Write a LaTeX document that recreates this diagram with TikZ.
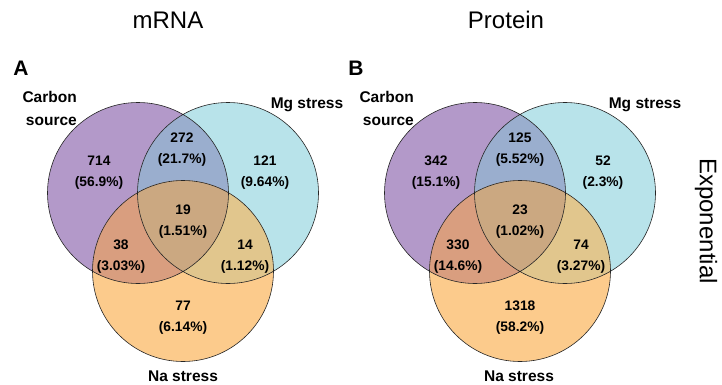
\documentclass[tikz,border=0pt]{standalone}
\usepackage{fontspec}
\setmainfont{Liberation Sans}
\definecolor{cPur}{HTML}{B399C9}
\definecolor{cBlu}{HTML}{B8E3EA}
\definecolor{cOra}{HTML}{FCCB8C}
\definecolor{cCM}{HTML}{9AAECE}
\definecolor{cCN}{HTML}{D99E7F}
\definecolor{cMN}{HTML}{E1C68D}
\definecolor{cCMN}{HTML}{CBA881}
\tikzset{
 lab/.style={font=\fontsize{15.5}{23}\selectfont\bfseries, inner sep=0pt},
 num/.style={font=\fontsize{13.8}{21}\selectfont\bfseries, align=center, inner sep=0pt},
 ttl/.style={font=\fontsize{24}{26}\selectfont, inner sep=0pt},
 pan/.style={font=\fontsize{21}{22}\selectfont\bfseries, inner sep=0pt},
 ring/.style={draw=black!85, line width=0.6pt},
 rr/.style={radius=90.5pt}
}
\begin{document}
\begin{tikzpicture}[x=1pt,y=-1pt]
\useasboundingbox (0,0) rectangle (722,385);
\node[ttl] (t1) at (168,20) {mRNA};
\node[ttl] (t2) at (506,20) {Protein};
\node[pan] (pa) at (21,68) {A};
\node[pan] (pb) at (356,68) {B};
\node[ttl, rotate=-90] (ex) at (706,221) {Exponential};

% ---- Venn A
\coordinate (cA) at (138,193);
\coordinate (mA) at (228,193);
\coordinate (nA) at (183,271);
\fill[cPur] (cA) circle[rr];
\fill[cBlu] (mA) circle[rr];
\fill[cOra] (nA) circle[rr];
\begin{scope}\clip (cA) circle[rr]; \fill[cCM] (mA) circle[rr]; \end{scope}
\begin{scope}\clip (cA) circle[rr]; \fill[cCN] (nA) circle[rr]; \end{scope}
\begin{scope}\clip (mA) circle[rr]; \fill[cMN] (nA) circle[rr]; \end{scope}
\begin{scope}\clip (cA) circle[rr]; \clip (mA) circle[rr]; \fill[cCMN] (nA) circle[rr]; \end{scope}
\draw[ring] (cA) circle[rr] (mA) circle[rr] (nA) circle[rr];
\node[lab, align=right, anchor=east] (lcA) at (77,108.5) {Carbon\\source};
\node[lab] (lmA) at (307,105) {Mg stress};
\node[lab] (lnA) at (183,376) {Na stress};
\node[num] (a1) at (99,172.5) {714\\(56.9\%)};
\node[num] (a2) at (182,150) {272\\(21.7\%)};
\node[num] (a3) at (265,172.5) {121\\(9.64\%)};
\node[num] (a4) at (183,221.5) {19\\(1.51\%)};
\node[num] (a5) at (121,257) {38\\(3.03\%)};
\node[num] (a6) at (245,257) {14\\(1.12\%)};
\node[num] (a7) at (183,318) {77\\(6.14\%)};

% ---- Venn B
\coordinate (cB) at (475,193);
\coordinate (mB) at (565,193);
\coordinate (nB) at (520,271);
\fill[cPur] (cB) circle[rr];
\fill[cBlu] (mB) circle[rr];
\fill[cOra] (nB) circle[rr];
\begin{scope}\clip (cB) circle[rr]; \fill[cCM] (mB) circle[rr]; \end{scope}
\begin{scope}\clip (cB) circle[rr]; \fill[cCN] (nB) circle[rr]; \end{scope}
\begin{scope}\clip (mB) circle[rr]; \fill[cMN] (nB) circle[rr]; \end{scope}
\begin{scope}\clip (cB) circle[rr]; \clip (mB) circle[rr]; \fill[cCMN] (nB) circle[rr]; \end{scope}
\draw[ring] (cB) circle[rr] (mB) circle[rr] (nB) circle[rr];
\node[lab, align=right, anchor=east] (lcB) at (414,108.5) {Carbon\\source};
\node[lab] (lmB) at (645,105) {Mg stress};
\node[lab] (lnB) at (519,376) {Na stress};
\node[num] (b1) at (436,172.5) {342\\(15.1\%)};
\node[num] (b2) at (520,150) {125\\(5.52\%)};
\node[num] (b3) at (603,172.5) {52\\(2.3\%)};
\node[num] (b4) at (520,221.5) {23\\(1.02\%)};
\node[num] (b5) at (458,257) {330\\(14.6\%)};
\node[num] (b6) at (581,257) {74\\(3.27\%)};
\node[num] (b7) at (520,318) {1318\\(58.2\%)};
\end{tikzpicture}
\end{document}
